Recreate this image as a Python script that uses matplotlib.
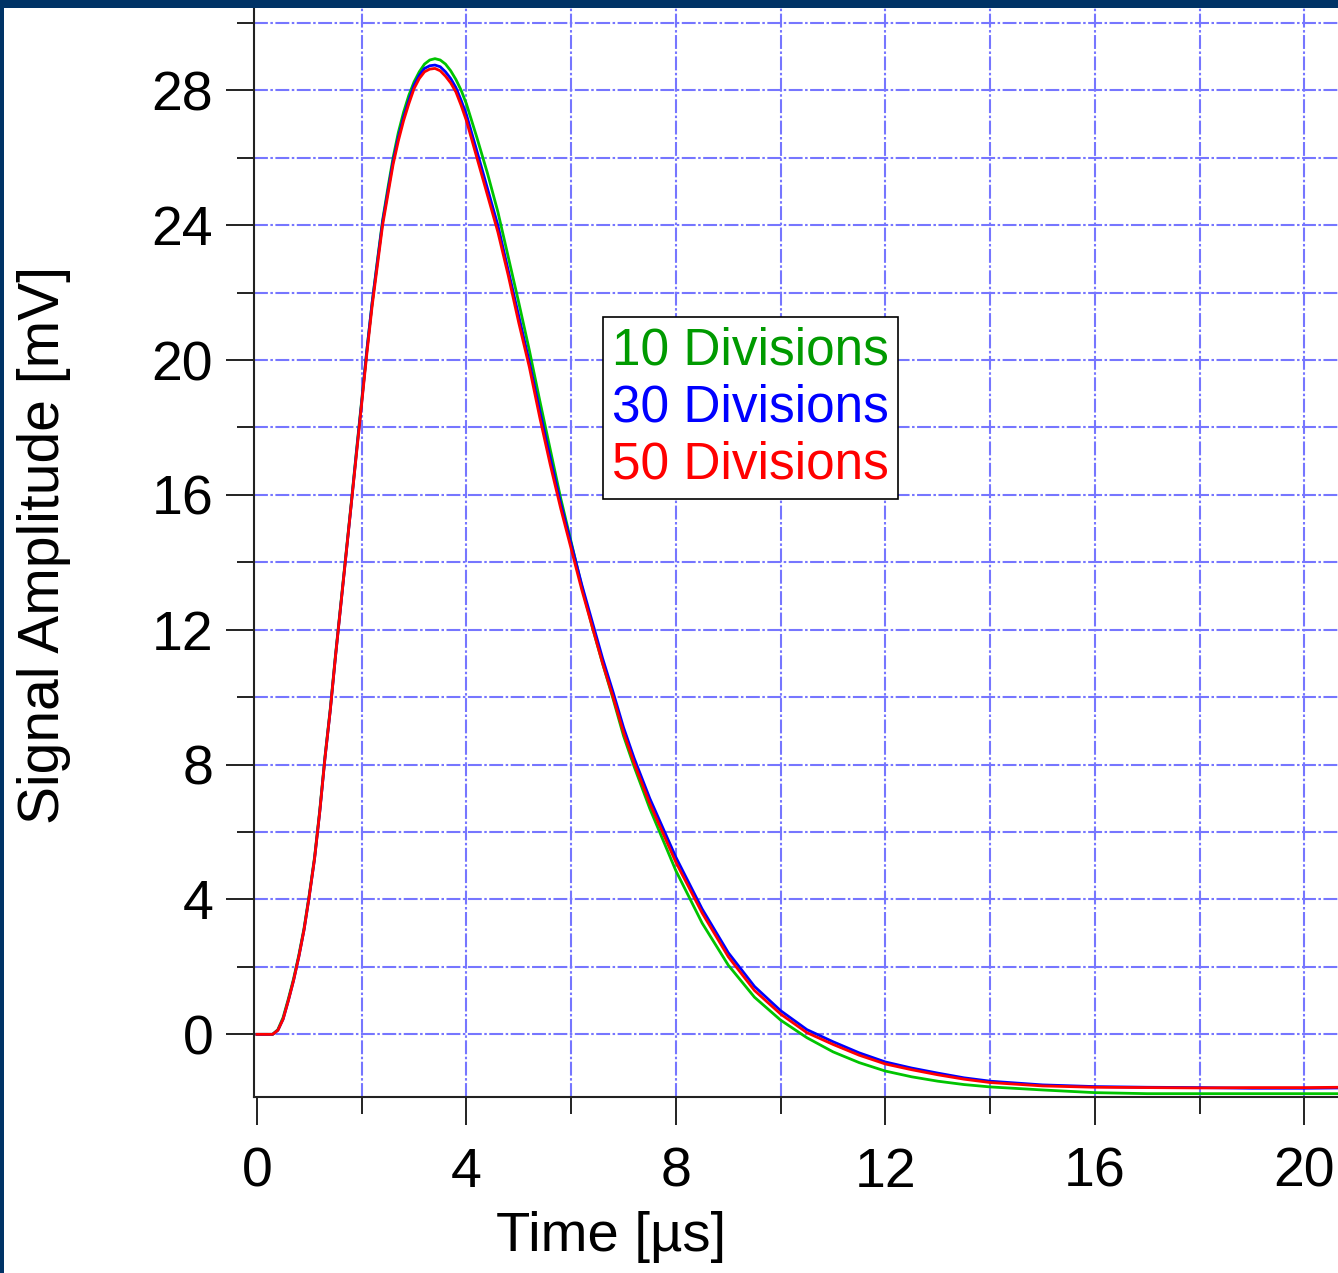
import matplotlib
matplotlib.use("Agg")
import matplotlib.pyplot as plt
from matplotlib.patches import Rectangle
from matplotlib.ticker import MultipleLocator

# ---------------- data ----------------
time_us = [0.0, 0.3, 0.4, 0.5, 0.6, 0.7, 0.8, 0.9, 1.0,
           1.1, 1.2, 1.3, 1.4, 1.5, 1.6, 1.7, 1.8, 1.9, 2.0,
           2.1, 2.2, 2.3, 2.4, 2.5, 2.6, 2.7, 2.8, 2.9, 3.0,
           3.1, 3.2, 3.3, 3.4, 3.5, 3.6, 3.7, 3.8, 3.9, 4.0,
           4.2, 4.4, 4.6, 4.8, 5.0, 5.2, 5.4, 5.6, 5.8, 6.0, 6.2, 6.4, 6.6, 6.8, 7.0, 7.2,
           7.5, 8.0, 8.5, 9.0, 9.5, 10.0, 10.5, 11.0, 11.5, 12.0, 12.5, 13.0, 13.5, 14.0,
           15.0, 16.0, 17.0, 18.0, 19.0, 20.0, 20.7]

amp_10div = [0.0, 0.0, 0.14, 0.5, 1.05, 1.65, 2.35, 3.15, 4.15,
             5.25, 6.65, 8.25, 9.65, 11.25, 12.75, 14.25, 15.75, 17.3, 18.8,
             20.3, 21.7, 22.95, 24.15, 25.1, 26.0, 26.75, 27.35, 27.85, 28.25,
             28.55, 28.78, 28.9, 28.94, 28.9, 28.78, 28.58, 28.32, 28.0, 27.6,
             26.6, 25.55, 24.4, 23.05, 21.7, 20.3, 18.8, 17.35, 15.9, 14.6, 13.3, 12.1, 11.0, 9.95, 8.85, 7.95,
             6.7, 4.85, 3.3, 2.05, 1.1, 0.42, -0.1, -0.52, -0.84, -1.09, -1.26, -1.39, -1.49, -1.56,
             -1.65, -1.73, -1.76, -1.76, -1.76, -1.76, -1.76]

amp_30div = [0.0, 0.0, 0.12, 0.45, 1.0, 1.6, 2.3, 3.1, 4.1,
             5.2, 6.6, 8.2, 9.6, 11.2, 12.7, 14.2, 15.7, 17.25, 18.75,
             20.3, 21.7, 22.9, 24.1, 25.0, 25.9, 26.6, 27.2, 27.7, 28.15,
             28.45, 28.65, 28.73, 28.75, 28.7, 28.55, 28.35, 28.08, 27.7, 27.28,
             26.2, 25.1, 24.0, 22.65, 21.3, 19.95, 18.5, 17.1, 15.75, 14.55, 13.35, 12.25, 11.15, 10.15, 9.1, 8.2,
             7.0, 5.25, 3.72, 2.42, 1.42, 0.7, 0.14, -0.22, -0.55, -0.82, -1.0, -1.15, -1.29, -1.39,
             -1.5, -1.55, -1.57, -1.58, -1.6, -1.6, -1.59]

amp_50div = [0.0, 0.0, 0.12, 0.45, 1.0, 1.6, 2.3, 3.1, 4.1,
             5.2, 6.6, 8.2, 9.6, 11.2, 12.7, 14.2, 15.7, 17.2, 18.7,
             20.2, 21.6, 22.8, 24.0, 24.9, 25.8, 26.5, 27.1, 27.6, 28.05,
             28.35, 28.55, 28.63, 28.65, 28.58, 28.42, 28.22, 27.95, 27.55, 27.1,
             26.0, 24.9, 23.8, 22.5, 21.1, 19.8, 18.3, 16.9, 15.6, 14.4, 13.2, 12.1, 11.0, 10.0, 8.95, 8.05,
             6.85, 5.1, 3.6, 2.3, 1.3, 0.6, 0.05, -0.3, -0.62, -0.88, -1.05, -1.2, -1.33, -1.43,
             -1.53, -1.57, -1.58, -1.59, -1.58, -1.58, -1.57]

series_labels = ["10 Divisions", "30 Divisions", "50 Divisions"]
line_colors = ["#00c400", "#0000ff", "#ff0000"]
text_colors = ["#009a00", "#0000ff", "#ff0000"]

x_major_ticks = [0, 4, 8, 12, 16, 20]
y_major_ticks = [0, 4, 8, 12, 16, 20, 24, 28]

# ---------------- figure ----------------
plt.rcParams['font.family'] = ['Liberation Sans', 'DejaVu Sans']
plt.rcParams['lines.scale_dashes'] = False

W, H = 1338, 1273
fig = plt.figure(figsize=(W / 100, H / 100), dpi=100, facecolor="white")

ax_left_px, ax_bottom_px = 253.5, 1096.7
ax = fig.add_axes([ax_left_px / W, (H - ax_bottom_px) / H,
                   (W - ax_left_px) / W, ax_bottom_px / H])
ax.set_xlim(-0.065, 20.64)
ax.set_ylim(-1.85, 30.68)

for spine in ("top", "right"):
    ax.spines[spine].set_visible(False)
for spine in ("left", "bottom"):
    ax.spines[spine].set_linewidth(1.5)
    ax.spines[spine].set_color("#222222")

ax.xaxis.set_major_locator(MultipleLocator(4))
ax.xaxis.set_minor_locator(MultipleLocator(2))
ax.yaxis.set_major_locator(MultipleLocator(4))
ax.yaxis.set_minor_locator(MultipleLocator(2))
ax.set_xticks(x_major_ticks)
ax.set_yticks(y_major_ticks)

ax.tick_params(axis="both", which="major", direction="out", length=20, width=1.4,
               color="#222222", labelsize=40)
ax.tick_params(axis="both", which="minor", direction="out", length=12, width=1.4,
               color="#222222")
ax.tick_params(axis="x", which="major", pad=16)
ax.tick_params(axis="y", which="major", pad=9)

grid_style = dict(color="#7676ff", linewidth=1.5, linestyle=(0, (10, 1.8, 1.8, 1.8)))
ax.grid(True, which="both", **grid_style)
ax.set_axisbelow(True)
fig.canvas.draw()
for tk in ax.xaxis.get_major_ticks():
    if abs(tk.get_loc()) < 1e-9:
        tk.gridline.set_visible(False)

lines = []
for vals, col, lab in zip([amp_10div, amp_30div, amp_50div], line_colors, series_labels):
    ln, = ax.plot(time_us, vals, color=col, linewidth=2.0, label=lab,
                  solid_joinstyle="round", zorder=3)
    lines.append(ln)

ax.set_xlabel("Time [µs]", fontsize=40.5)
ax.xaxis.set_label_coords(0.33, -0.104)
ax.set_ylabel("Signal Amplitude [mV]", fontsize=41)
ax.yaxis.set_label_coords(-0.168, 0.503)

leg = ax.legend(lines, series_labels, loc="upper left", bbox_to_anchor=(0.322, 0.711),
                borderaxespad=0, handlelength=0, handletextpad=0, fontsize=37,
                frameon=True, fancybox=False, framealpha=1, edgecolor="black",
                borderpad=0.18, labelspacing=0.16)
leg.get_frame().set_linewidth(1.2)
for txt, c in zip(leg.get_texts(), text_colors):
    txt.set_color(c)
leg.set_zorder(5)

# dark border band (top and left)
fig.add_artist(Rectangle((0, 1 - 8 / H), 1, 8 / H, transform=fig.transFigure,
                         facecolor="#003366", edgecolor="none", zorder=10))
fig.add_artist(Rectangle((0, 0), 4 / W, 1, transform=fig.transFigure,
                         facecolor="#003366", edgecolor="none", zorder=10))

fig.savefig("out.png", dpi=100, facecolor="white")
